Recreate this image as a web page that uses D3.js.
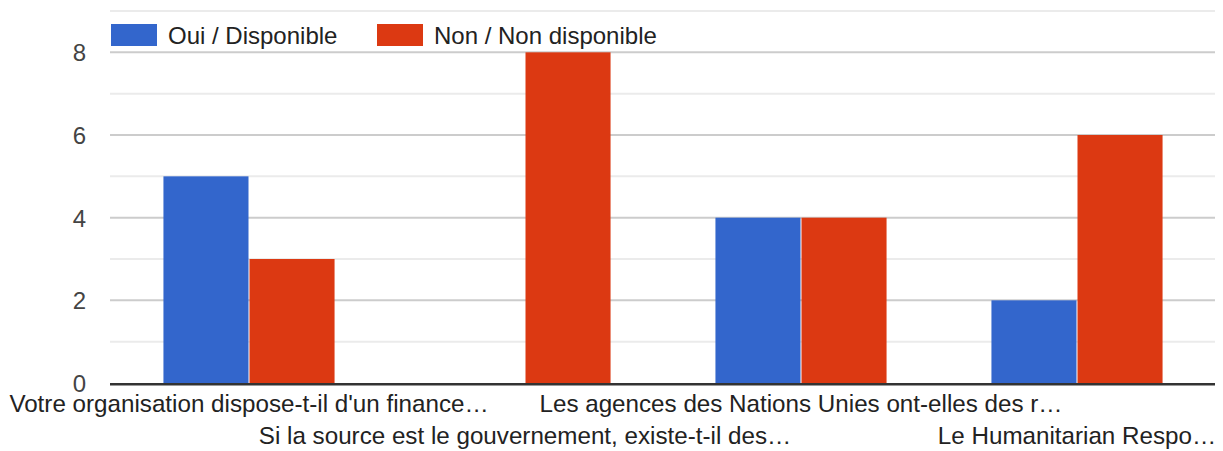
<!DOCTYPE html>
<html>
<head>
<meta charset="utf-8">
<script src="https://cdn.jsdelivr.net/npm/d3@7"></script>
<style>
  html, body { margin: 0; padding: 0; background: #fff; }
  svg { display: block; font-family: "Liberation Sans", Arial, sans-serif; }
</style>
</head>
<body>
<svg id="chart" width="1223" height="451"></svg>
<script>
const categories = [
  "Votre organisation dispose-t-il d'un finance…",
  "Si la source est le gouvernement, existe-t-il des…",
  "Les agences des Nations Unies ont-elles des r…",
  "Le Humanitarian Respo…"
];
const seriesNames = ["Oui / Disponible", "Non / Non disponible"];
const ouiValues = [5, 0, 4, 2];
const nonValues = [3, 8, 4, 6];
const yTickLabels = [0, 2, 4, 6, 8];
const colors = ["#3366cc", "#dc3912"];

(function () {
const seriesValues = [ouiValues, nonValues];
const svg = d3.select("#chart");
const plotL = 111, plotR = 1215, plotT = 11, plotB = 383;

const x = d3.scaleBand().domain(categories).range([plotL, plotR]).padding(0);
const groupFrac = 0.62;
const xs = d3.scaleBand().domain(seriesNames)
  .range([x.bandwidth() * (1 - groupFrac) / 2, x.bandwidth() * (1 + groupFrac) / 2]);
const y = d3.scaleLinear().domain([0, 9]).range([plotB, plotT]);

// gridlines
const grid = svg.append("g");
d3.range(1, 10).forEach(v => {
  grid.append("line")
    .attr("x1", plotL - 1).attr("x2", plotR)
    .attr("y1", y(v)).attr("y2", y(v))
    .attr("stroke", v % 2 === 0 ? "#cccccc" : "#ebebeb")
    .attr("stroke-width", 2);
});

// bars
const groups = svg.append("g").selectAll("g").data(categories).join("g")
  .attr("transform", d => `translate(${x(d)},0)`);
groups.selectAll("rect")
  .data((d, i) => seriesNames.map((s, j) => ({ s, j, v: seriesValues[j][i] })))
  .join("rect")
  .attr("x", d => xs(d.s) + (d.j === 1 ? 0.5 : 0))
  .attr("width", d => xs.bandwidth() - 0.5)
  .attr("y", d => y(d.v))
  .attr("height", d => y(0) - y(d.v))
  .attr("fill", d => colors[d.j]);

// baseline
svg.append("rect")
  .attr("x", plotL - 1).attr("width", plotR - plotL + 1)
  .attr("y", y(0)).attr("height", 2.5)
  .attr("fill", "#333333");

// y axis labels
const yAxis = d3.axisLeft(y).tickValues(yTickLabels).tickSize(0).tickPadding(0).tickFormat(d3.format("d"));
const yg = svg.append("g").attr("transform", `translate(86,0)`).call(yAxis);
yg.select(".domain").remove();
yg.selectAll("text")
  .attr("font-size", 24)
  .attr("font-family", "Liberation Sans, Arial, sans-serif")
  .attr("fill", "#444444")
  .attr("dy", "0.36em");

// x axis labels (staggered)
const xAxis = d3.axisBottom(x).tickSize(0).tickPadding(0);
const xg = svg.append("g").attr("transform", `translate(0,${y(0)})`).call(xAxis);
xg.select(".domain").remove();
xg.selectAll("text")
  .attr("font-size", 24.2)
  .attr("font-family", "Liberation Sans, Arial, sans-serif")
  .attr("fill", "#222222")
  .attr("dy", null)
  .attr("y", (d, i) => i % 2 === 0 ? 29 : 61);

// legend
const legendX = [111, 377];
const lg = svg.append("g").selectAll("g").data(seriesNames).join("g")
  .attr("transform", (d, i) => `translate(${legendX[i]},24)`);
lg.append("rect").attr("width", 46).attr("height", 22).attr("fill", (d, i) => colors[i]);
lg.append("text")
  .attr("x", 57).attr("y", 20)
  .attr("font-size", 24)
  .attr("fill", "#222222")
  .attr("stroke", "#ffffff").attr("stroke-width", 3)
  .attr("paint-order", "stroke")
  .text(d => d);
})();
</script>
</body>
</html>
